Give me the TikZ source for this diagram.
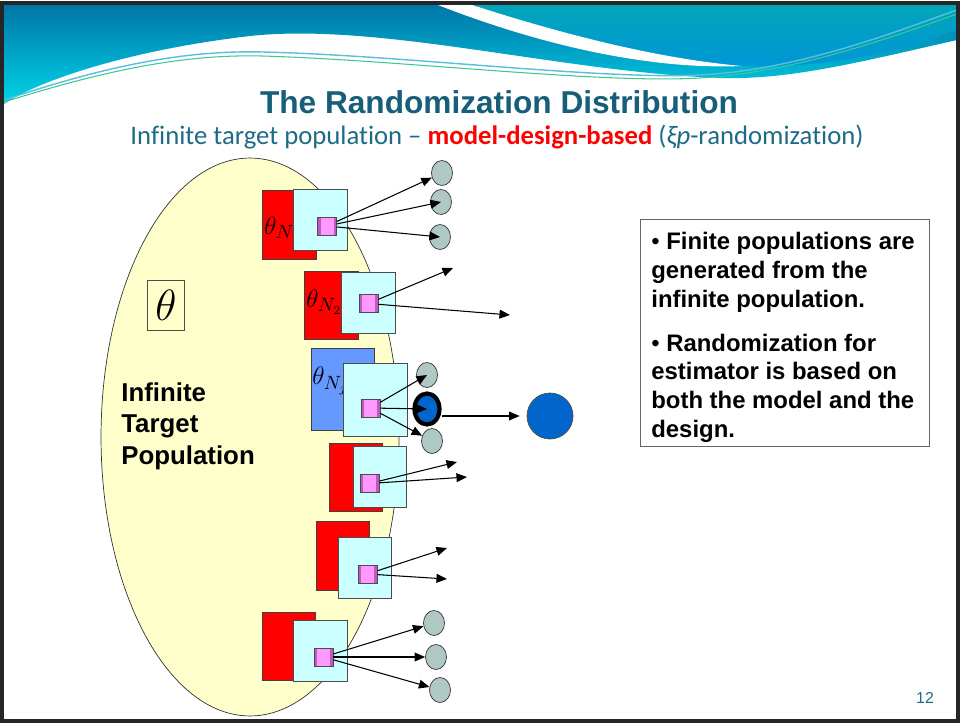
\documentclass[tikz,border=0pt]{standalone}
\usepackage{fontspec}
\setmainfont{Liberation Sans}
\newfontfamily\calibri[Ligatures=NoCommon]{Carlito}
\usetikzlibrary{arrows.meta,positioning,calc,shapes.geometric}

\definecolor{titleblue}{RGB}{23,94,122}
\definecolor{subblue}{RGB}{31,107,135}
\definecolor{popyellow}{RGB}{255,255,204}
\definecolor{framecyan}{RGB}{204,255,255}
\definecolor{popblue}{RGB}{102,153,255}
\definecolor{unitpink}{RGB}{255,153,255}
\definecolor{unitpurple}{RGB}{190,90,190}
\definecolor{samplegray}{RGB}{176,200,196}
\definecolor{estblue}{RGB}{0,102,204}
\definecolor{wavedark}{RGB}{0,118,168}
\definecolor{wavelight}{RGB}{0,212,232}
\definecolor{waveteal}{RGB}{0,165,185}
\definecolor{wavemid}{RGB}{0,150,215}
\definecolor{strandblue}{RGB}{90,190,220}
\definecolor{strandgreen}{RGB}{60,200,150}

\tikzset{
  finpop/.style={rectangle, draw=black!75, fill=red, minimum width=1.07cm, minimum height=1.37cm, inner sep=0pt},
  sampframe/.style={rectangle, draw=black!70, fill=framecyan, minimum width=1.07cm, minimum height=1.22cm, inner sep=0pt},
  unitbox/.style={rectangle, draw=black!70, fill=unitpink, minimum width=0.38cm, minimum height=0.36cm, inner sep=0pt,
    path picture={
      \fill[unitpurple] (path picture bounding box.north west) rectangle ([xshift=0.06cm]path picture bounding box.south west);
      \fill[unitpurple] (path picture bounding box.north east) rectangle ([xshift=-0.06cm]path picture bounding box.south east);}},
  samplepop/.style={ellipse, draw=black!80, fill=samplegray, minimum width=0.42cm, minimum height=0.5cm, inner sep=0pt},
  pick/.style={-{Triangle[length=6pt,width=5pt]}, line width=0.6pt},
  thlabel/.style={anchor=west, inner sep=0pt, font=\fontsize{15}{15}\selectfont}
}

\begin{document}
\begin{tikzpicture}[x=0.02cm, y=-0.02cm]
\useasboundingbox (0,0) rectangle (960,723);
\fill[white] (0,0) rectangle (960,723);

% header wave
\shade[top color=wavedark, bottom color=wavelight] (4,5) -- (957,5) -- (957,40) .. controls (860,62) and (790,80) .. (720,78) .. controls (560,72) and (380,22) .. (250,36) .. controls (130,50) and (40,80) .. (4,104) -- cycle;
\shade[top color=waveteal, bottom color=wavemid] (472,5) .. controls (560,38) and (660,62) .. (742,66) .. controls (830,68) and (900,52) .. (957,30) -- (957,5) -- cycle;
\fill[white] (438,5) .. controls (540,45) and (650,70) .. (742,66) .. controls (650,58) and (550,30) .. (472,5) -- cycle;
\draw[line width=0.8pt, strandblue] (4,100) .. controls (100,68) and (180,50) .. (262,52) .. controls (400,55) and (600,80) .. (700,75) .. controls (800,70) and (900,30) .. (957,10);
\draw[line width=0.6pt, strandgreen] (4,102) .. controls (100,72) and (180,54) .. (262,56) .. controls (400,60) and (600,84) .. (700,78) .. controls (800,72) and (900,34) .. (957,14);

% titles
\node[font=\bfseries\fontsize{18}{18}\selectfont, text=titleblue] (title) at (499,102) {The Randomization Distribution};
\node[font=\calibri\fontsize{15.2}{15.2}\selectfont, text=subblue] (subtitle) at (497,137) {Infinite target population – \textcolor{red}{\bfseries model-design-based} (\textit{ξp}-randomization)};

% infinite population
\node[ellipse, draw=black!80, fill=popyellow, minimum width=5.96cm, minimum height=11.16cm, inner sep=0pt] (infpop) at (250,437) {};
\node[draw=black!70, inner sep=0pt, minimum width=0.74cm, minimum height=1cm, font=\fontsize{26}{26}\selectfont] (theta) at (166,305) {$\theta$};
\node[anchor=north west, align=left, inner sep=0pt, font=\bfseries\fontsize{14.7}{18}\selectfont] (inflabel) at (121,382) {Infinite\\Target\\Population};

% finite populations and samples
\node[finpop] (f1) at (289.5,225) {};
\node[thlabel] (l1) at (264,229) {$\theta_{N_1}$};
\node[sampframe] (c1) at (320.5,219.5) {};
\node[unitbox] (u1) at (327,226) {};

\node[finpop] (f2) at (331.5,305.5) {};
\node[thlabel] (l2) at (306,302) {$\theta_{N_2}$};
\node[sampframe] (c2) at (368.5,302.5) {};
\node[unitbox] (u2) at (368.5,303.5) {};

\node[finpop, fill=popblue, minimum width=1.26cm, minimum height=1.64cm] (f3) at (342.5,389) {};
\node[thlabel] (l3) at (312,381) {$\theta_{N_j}$};
\node[sampframe, minimum width=1.28cm, minimum height=1.46cm] (c3) at (375,399.5) {};
\node[unitbox] (u3) at (370.5,408) {};

\node[finpop] (f4) at (356,477.5) {};
\node[sampframe] (c4) at (380,476.5) {};
\node[unitbox] (u4) at (369.5,483.5) {};

\node[finpop] (f5) at (343,556) {};
\node[sampframe] (c5) at (365,567.5) {};
\node[unitbox] (u5) at (367.5,574) {};

\node[finpop] (f6) at (289,646.5) {};
\node[sampframe] (c6) at (320.5,650.5) {};
\node[unitbox] (u6) at (323.5,657) {};

% samples
\node[samplepop] (s11) at (442,173) {};
\node[samplepop] (s12) at (441,202) {};
\node[samplepop] (s13) at (440,237) {};
\node[samplepop] (s31) at (427,375) {};
\node[ellipse, draw=black, line width=2.4pt, fill=estblue, minimum width=0.5cm, minimum height=0.62cm, inner sep=0pt] (est) at (427,409) {};
\node[samplepop] (s33) at (432,441) {};
\node[samplepop] (s61) at (434,623) {};
\node[samplepop] (s62) at (436,657) {};
\node[samplepop] (s63) at (440,690) {};
\node[circle, draw=black!70, fill=estblue, minimum size=0.92cm, inner sep=0pt] (bigest) at (550,416) {};

\coordinate (e21) at (453,268);
\coordinate (e22) at (510,315);
\coordinate (e41) at (457,462);
\coordinate (e42) at (467,477);
\coordinate (e51) at (447,548);
\coordinate (e52) at (447,579);

\draw[pick] (u1) -- (s11);
\draw[pick] (u1) -- (s12.center);
\draw[pick] (u1) -- (s13.center);
\draw[pick] (u2) -- (e21);
\draw[pick] (u2) -- (e22);
\draw[pick] (u3) -- (s31.center);
\draw[pick] (u3) -- (est.center);
\draw[pick] (u3) -- (s33);
\draw[pick, shorten >=4pt] (bigest.west -| est.east) -- (bigest.west);
\draw[pick] (u4) -- (e41);
\draw[pick] (u4) -- (e42);
\draw[pick] (u5) -- (e51);
\draw[pick] (u5) -- (e52);
\draw[pick] (u6) -- (s61);
\draw[pick] (u6) -- (s62);
\draw[pick] (u6) -- (s63);

% notes
\node[draw=black!60, fill=white, anchor=north west, minimum width=5.78cm, minimum height=4.54cm, inner sep=0pt] (note) at (640,219) {};
\node[anchor=north west, align=left, inner sep=0pt, font=\bfseries\fontsize{13.6}{16.4}\selectfont] (notetext) at ([shift={(0.22cm,-0.26cm)}]note.north west) {{\mdseries •} Finite populations are\\generated from the\\infinite population.\\[8.5pt]{\mdseries •} Randomization for\\estimator is based on\\both the model and the\\design.};

\node[text=subblue, font=\fontsize{9}{9}\selectfont] (pagenum) at (925,698) {12};

% slide frame
\draw[line width=2pt, black!85] (2,3) rectangle (958,721);
\end{tikzpicture}
\end{document}
